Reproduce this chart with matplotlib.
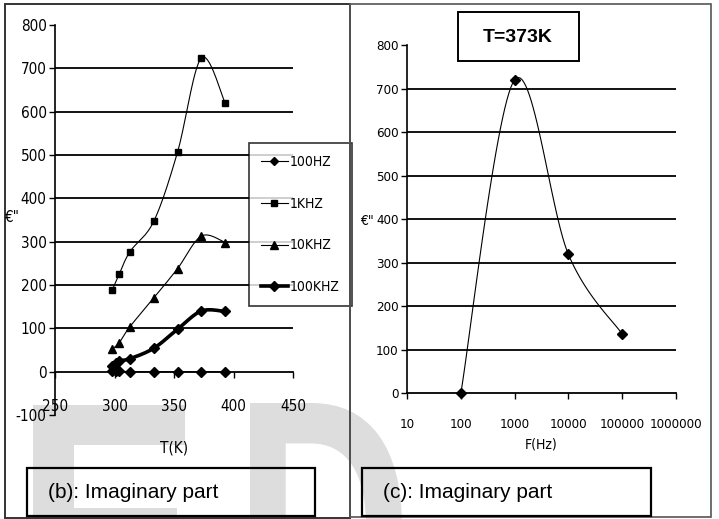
import numpy as np
import matplotlib
matplotlib.use("Agg")
import matplotlib.pyplot as plt
from matplotlib.lines import Line2D
from matplotlib.patches import Rectangle, PathPatch
from matplotlib.textpath import TextPath
from matplotlib.transforms import Affine2D
from matplotlib.font_manager import FontProperties
from matplotlib import font_manager

W, H = 719, 519

# (b): eps'' vs temperature at four frequencies
temps_100hz = [298, 301, 304, 313, 333, 353, 373, 393]
eps_100hz = [2, 1, 1, 0, 0, 0, 0, 0]
temps_1khz = [298, 304, 313, 333, 353, 373, 393]
eps_1khz = [188, 225, 277, 347, 507, 724, 620]
temps_10khz = [298, 304, 313, 333, 353, 373, 393]
eps_10khz = [52, 67, 104, 170, 238, 313, 298]
temps_100khz = [298, 301, 304, 313, 333, 353, 373, 393]
eps_100khz = [14, 21, 25, 30, 54, 98, 140, 139]
legend_labels = ["100HZ", "1KHZ", "10KHZ", "100KHZ"]

# (c): eps'' vs frequency at T=373K
freq_373 = [100, 1000, 10000, 100000]
eps_373 = [0, 720, 319, 136]

t_ticks = [250, 300, 350, 400, 450]
f_ticks = [10, 100, 1000, 10000, 100000, 1000000]
eps_ticks_b = [-100, 0, 100, 200, 300, 400, 500, 600, 700, 800]
eps_ticks_c = [0, 100, 200, 300, 400, 500, 600, 700, 800]

plt.rcParams["font.family"] = ["Liberation Sans", "DejaVu Sans"]
plt.rcParams["axes.unicode_minus"] = False

# narrow face for the axis numbers (Excel's old bitmap look)
cond = [f.fname for f in font_manager.fontManager.ttflist
        if "SansCondensed.ttf" in f.fname or "SansNarrow-Regular" in f.fname]
if cond:
    def narrow(size):
        return FontProperties(fname=cond[0], size=size)
else:
    def narrow(size):
        return FontProperties(family="DejaVu Sans", size=size * 0.85)


def fx(x):
    return x / W


def fy(y):
    return 1 - y / H


def smooth(x, y, n=30):
    """Excel-like smoothed line (Catmull-Rom through the points)."""
    pts = np.column_stack([x, y]).astype(float)
    p = np.vstack([pts[0], pts, pts[-1]])
    t = np.linspace(0, 1, n)[:, None]
    segs = []
    for i in range(1, len(p) - 2):
        p0, p1, p2, p3 = p[i - 1], p[i], p[i + 1], p[i + 2]
        segs.append(0.5 * (2 * p1 + (p2 - p0) * t
                           + (2 * p0 - 5 * p1 + 4 * p2 - p3) * t ** 2
                           + (3 * p1 - p0 - 3 * p2 + p3) * t ** 3))
    c = np.vstack(segs)
    return c[:, 0], c[:, 1]


def watermark(letter, left, top, width, height):
    tp = TextPath((0, 0), letter, size=1, prop=FontProperties(family="Liberation Sans", weight="bold"))
    ext = tp.get_extents()
    tr = (Affine2D().translate(-ext.x0, -ext.y1)
          .scale(width / ext.width / W, height / ext.height / H)
          .translate(fx(left), fy(top)))
    fig.add_artist(PathPatch(tr.transform_path(tp), fc="#dddddd", ec="none",
                             transform=fig.transFigure, zorder=-5))


fig = plt.figure(figsize=(W / 100, H / 100), dpi=100, facecolor="white")

# faint watermark letters behind everything
watermark("E", 33, 405, 158, 250)
watermark("D", 250, 403, 152, 250)

# panel frames
fig.add_artist(Rectangle((fx(5), fy(518)), fx(350) - fx(5), fy(4) - fy(518),
                         fill=False, ec="#333333", lw=1.4, transform=fig.transFigure))
fig.add_artist(Rectangle((fx(350), fy(517)), fx(711) - fx(350), fy(4) - fy(517),
                         fill=False, ec="#555555", lw=1.2, transform=fig.transFigure))

# ---------------- panel (b) ----------------
ax1 = fig.add_axes([fx(55), fy(415), fx(293) - fx(55), fy(25) - fy(415)])
ax1.set_facecolor("none")
ax1.set_xlim(250, 450)
ax1.set_ylim(-100, 800)
ax1.hlines([100, 200, 300, 400, 500, 600, 700], 250, 450, color="black", lw=1.3, zorder=1)
for s in ("top", "right"):
    ax1.spines[s].set_visible(False)
ax1.spines["bottom"].set_position(("data", 0))
ax1.spines["left"].set_linewidth(1.2)
ax1.spines["bottom"].set_linewidth(1.3)
ax1.set_xticks(t_ticks)
ax1.set_yticks(eps_ticks_b)
ax1.tick_params(axis="y", direction="out", length=4, width=1, pad=2)
ax1.tick_params(axis="x", direction="out", length=4, width=1, pad=16)
for lab in ax1.get_xticklabels() + ax1.get_yticklabels():
    lab.set_fontproperties(narrow(11))

series = [
    (temps_100hz, eps_100hz, "D", 5, 0.8),
    (temps_1khz, eps_1khz, "s", 5, 0.8),
    (temps_10khz, eps_10khz, "^", 6, 0.8),
    (temps_100khz, eps_100khz, "D", 5.5, 2.6),
]
handles = []
for (tx, ey, mk, ms, lw), lab in zip(series, legend_labels):
    sx, sy = smooth(tx, ey)
    ax1.plot(sx, sy, color="black", lw=lw, zorder=3)
    ax1.plot(tx, ey, ls="none", marker=mk, ms=ms, color="black", zorder=4)
    handles.append(Line2D([], [], color="black", lw=lw, marker=mk, ms=ms * 0.9))

leg = ax1.legend(handles, legend_labels, loc="upper left",
                 bbox_to_anchor=(fx(249), fy(143)), bbox_transform=fig.transFigure,
                 borderaxespad=0, frameon=True, fancybox=False, edgecolor="black",
                 handlelength=1.95, handletextpad=0.15, labelspacing=2.0,
                 borderpad=0.85, prop=narrow(10))
leg.get_frame().set_linewidth(1.2)
leg.set_zorder(6)

fig.text(fx(174), fy(448), "T(K)", ha="center", va="center", fontproperties=narrow(11))
fig.text(fx(12), fy(217), "€\"", ha="center", va="center", fontproperties=narrow(11))

# ---------------- panel (c) ----------------
ax2 = fig.add_axes([fx(407), fy(393.3), fx(676) - fx(407), fy(45) - fy(393.3)])
ax2.set_facecolor("none")
ax2.set_xscale("log")
ax2.set_xlim(10, 1000000)
ax2.set_ylim(0, 800)
ax2.hlines([100, 200, 300, 400, 500, 600, 700], 10, 1000000, color="black", lw=1.3, zorder=1)
for s in ("top", "right"):
    ax2.spines[s].set_visible(False)
ax2.spines["left"].set_linewidth(1.2)
ax2.spines["bottom"].set_linewidth(1.3)
ax2.set_xticks(f_ticks)
ax2.set_xticklabels([str(v) for v in f_ticks])
ax2.xaxis.set_minor_locator(matplotlib.ticker.NullLocator())
ax2.set_yticks(eps_ticks_c)
ax2.tick_params(axis="y", direction="out", length=4, width=1, pad=2)
ax2.tick_params(axis="x", direction="out", length=4, width=1, pad=14)
for lab in ax2.get_xticklabels() + ax2.get_yticklabels():
    lab.set_fontproperties(narrow(9.5))

lx, ly = smooth(np.log10(freq_373), eps_373)
ax2.plot(10 ** lx, ly, color="black", lw=0.8, zorder=3)
ax2.plot(freq_373, eps_373, ls="none", marker="D", ms=5, color="black", zorder=4, clip_on=False)

fig.text(fx(541), fy(445), "F(Hz)", ha="center", va="center", fontproperties=narrow(10))
fig.text(fx(367), fy(221), "€\"", ha="center", va="center", fontproperties=narrow(10))

# T=373K box
fig.add_artist(Rectangle((fx(458), fy(61)), fx(579) - fx(458), fy(12) - fy(61),
                         fill=False, ec="black", lw=1.4, transform=fig.transFigure))
fig.text(fx(518), fy(37), "T=373K", ha="center", va="center", fontsize=14, fontweight="bold")

# caption boxes
fig.add_artist(Rectangle((fx(27), fy(516)), fx(315) - fx(27), fy(468) - fy(516),
                         fill=False, ec="black", lw=1.6, transform=fig.transFigure))
fig.text(fx(48), fy(493), "(b): Imaginary part", ha="left", va="center", fontsize=15)
fig.add_artist(Rectangle((fx(362), fy(516)), fx(651) - fx(362), fy(468) - fy(516),
                         fill=False, ec="black", lw=1.6, transform=fig.transFigure))
fig.text(fx(383), fy(493), "(c): Imaginary part", ha="left", va="center", fontsize=15)

fig.savefig("out.png", dpi=100)
